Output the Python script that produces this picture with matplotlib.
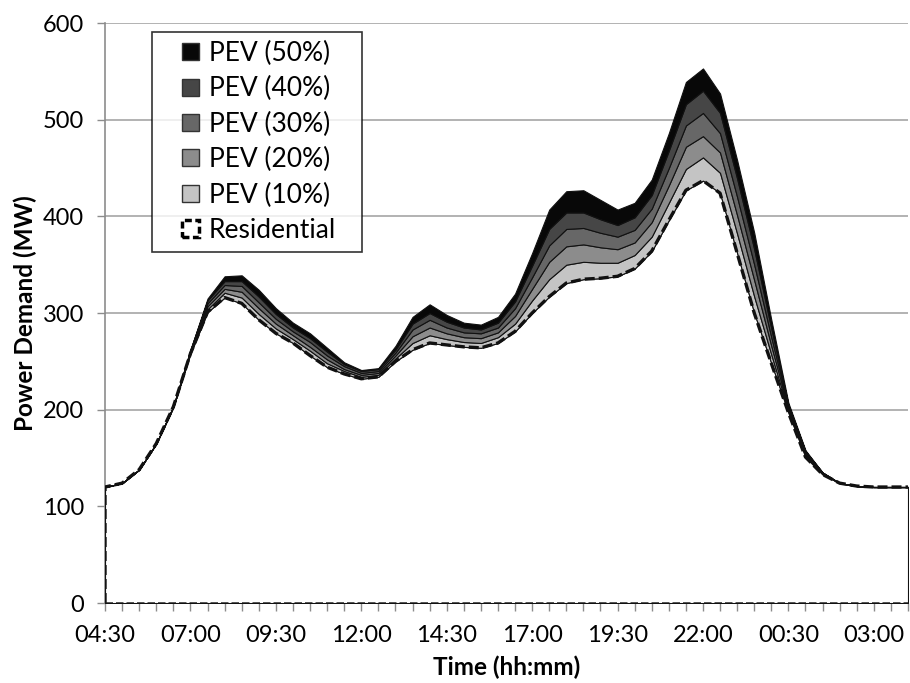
import matplotlib
matplotlib.use("Agg")
import matplotlib.pyplot as plt
from matplotlib.patches import Patch, Rectangle
from matplotlib.legend_handler import HandlerPatch
import numpy as np

plt.rcParams['font.family'] = ['Lato', 'DejaVu Sans']

# half-hourly time slots, 04:30 through 04:00 next day
times = ["04:30", "05:00", "05:30", "06:00", "06:30", "07:00", "07:30", "08:00",
         "08:30", "09:00", "09:30", "10:00", "10:30", "11:00", "11:30", "12:00",
         "12:30", "13:00", "13:30", "14:00", "14:30", "15:00", "15:30", "16:00",
         "16:30", "17:00", "17:30", "18:00", "18:30", "19:00", "19:30", "20:00",
         "20:30", "21:00", "21:30", "22:00", "22:30", "23:00", "23:30", "00:00",
         "00:30", "01:00", "01:30", "02:00", "02:30", "03:00", "03:30", "04:00"]

# base residential load (MW)
residential = [120, 124, 138, 165, 203, 258, 301, 316, 310, 293, 279, 269,
               256, 244, 237, 232, 234, 250, 262, 269, 267, 265, 264, 269,
               281, 300, 317, 331, 335, 336, 338, 346, 364, 396, 427, 437,
               424, 362, 300, 248, 197, 151, 133, 124, 121, 120, 120, 120]

# extra charging load added by each 10% step of PEV penetration (MW)
pev_10 = [0, 0, 0, 0, 0, 1, 3, 5, 6, 6, 5, 4, 5, 4, 3, 2, 2, 3, 7, 8, 6, 5, 5, 6,
          8, 13, 18, 19, 18, 16, 14, 14, 15, 18, 22, 24, 21, 20, 17, 9, 2, 2, 1, 0, 0, 0, 0, 0]
pev_20 = [0, 0, 0, 0, 0, 1, 3, 4, 6, 6, 5, 4, 4, 4, 2, 2, 2, 3, 7, 8, 6, 5, 5, 5,
          8, 12, 18, 19, 18, 16, 14, 13, 15, 18, 23, 22, 21, 19, 17, 9, 2, 1, 0, 0, 0, 0, 0, 0]
pev_30 = [0, 0, 0, 0, 0, 1, 3, 4, 6, 6, 5, 4, 5, 4, 3, 2, 2, 3, 7, 8, 6, 5, 5, 5,
          8, 12, 17, 18, 17, 15, 13, 13, 14, 18, 22, 24, 20, 19, 16, 9, 2, 2, 1, 0, 0, 0, 0, 0]
pev_40 = [0, 0, 0, 0, 0, 1, 3, 4, 5, 6, 5, 4, 4, 4, 2, 2, 2, 3, 6, 7, 6, 5, 4, 5,
          7, 12, 17, 17, 16, 14, 12, 13, 14, 18, 22, 23, 21, 19, 16, 9, 2, 1, 0, 0, 0, 0, 0, 0]
pev_50 = [0, 0, 0, 0, 1, 0, 2, 5, 6, 7, 6, 5, 5, 4, 2, 1, 1, 4, 7, 9, 7, 5, 5, 6,
          8, 13, 20, 22, 23, 20, 16, 15, 16, 18, 23, 23, 20, 19, 17, 9, 2, 1, 0, 0, 0, 0, 0, 0]

layer_names = ["PEV (10%)", "PEV (20%)", "PEV (30%)", "PEV (40%)", "PEV (50%)"]
layer_colors = ["#c4c4c4", "#8c8c8c", "#676767", "#464646", "#080808"]

x = np.arange(len(times))

fig = plt.figure(figsize=(9.1, 6.83), dpi=100)
ax = fig.add_axes([0.1154, 0.1171, 0.8824, 0.8492])

ax.stackplot(x, residential, pev_10, pev_20, pev_30, pev_40, pev_50,
             colors=["white"] + layer_colors,
             edgecolor="#111111", linewidth=0.8, zorder=3)

# dashed outline around the residential area
dash = (0, (3.0, 1.2))
ax.plot(np.r_[x[0], x], np.r_[0, residential], color="#111111",
        linestyle=dash, linewidth=2.4, zorder=4)
ax.plot([x[0], x[-1]], [0, 0], color="#222222", linestyle=dash,
        linewidth=1.8, zorder=4)

ax.set_xlim(0, len(times) - 1)
ax.set_ylim(0, 600)
ax.set_yticks(range(0, 601, 100))
ax.yaxis.grid(True, color="#a6a6a6", linewidth=1.2, zorder=0)
ax.set_axisbelow(True)

ax.set_xticks(x, minor=True)
ax.set_xticks(x[::5])
ax.set_xticklabels(times[::5])
ax.tick_params(axis="x", which="both", length=6, color="#8c8c8c", width=1,
               labelsize=17, pad=10)
ax.tick_params(axis="y", length=6, color="#8c8c8c", width=1, labelsize=17, pad=9)

for side in ["top", "right"]:
    ax.spines[side].set_visible(False)
for side in ["left", "bottom"]:
    ax.spines[side].set_color("#8c8c8c")
    ax.spines[side].set_linewidth(1.2)

ax.set_xlabel("Time (hh:mm)", fontsize=17.5, fontweight="bold", labelpad=7)
ax.set_ylabel("Power Demand (MW)", fontsize=17.5, fontweight="bold", labelpad=4)


def square_key(legend, orig_handle, xdescent, ydescent, width, height, fontsize):
    # small square key sitting at the right end of the handle slot
    s = height
    return Rectangle((width - s - xdescent, -ydescent), s, s)


handles = [Patch(facecolor=c, edgecolor="#333333", label=n)
           for n, c in zip(layer_names[::-1], layer_colors[::-1])]
handles.append(Patch(facecolor="white", edgecolor="#000000", linewidth=2.5,
                     linestyle=(0, (2, 1)), label="Residential"))
leg = ax.legend(handles=handles, loc="upper left",
                bbox_to_anchor=(0.0585, 0.4, 0.2615, 0.585), mode="expand",
                frameon=True, fancybox=False, edgecolor="#000000", fontsize=19,
                handler_map={Patch: HandlerPatch(patch_func=square_key)},
                handlelength=1.45, handleheight=0.62, handletextpad=0.35,
                labelspacing=0.39, borderpad=0.35, borderaxespad=0)
leg.get_frame().set_linewidth(1.2)
leg.set_zorder(5)

fig.savefig("out.png", dpi=100)
